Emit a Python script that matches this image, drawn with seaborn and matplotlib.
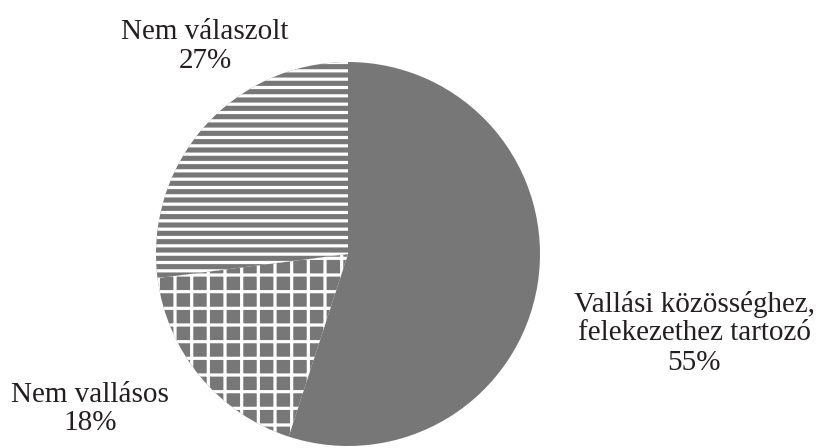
import matplotlib
matplotlib.use("Agg")
import matplotlib.pyplot as plt
import seaborn as sns

categories = ["Vallási közösséghez,\nfelekezethez tartozó", "Nem vallásos", "Nem válaszolt"]
values = [55, 18, 27]
pct_labels = ["55%", "18%", "27%"]

sns.set_style("white")
plt.rcParams["font.family"] = ["Liberation Serif", "DejaVu Serif"]
plt.rcParams["hatch.linewidth"] = 2.3

W, H, DPI = 818, 448, 100
fig = plt.figure(figsize=(W / DPI, H / DPI), dpi=DPI)
ax = fig.add_axes([0, 0, 1, 1])

cx, cy, R = 348, 254, 192  # pixel geometry of the pie
gray = "#777777"

wedges, _ = ax.pie(values, startangle=90, counterclock=False, radius=1,
                   colors=[gray, gray, gray],
                   wedgeprops=dict(linewidth=0))
wedges[0].set_edgecolor(gray)
for w, h in zip(wedges[1:], ["+", "--"]):
    w.set_edgecolor("white")
    w.set_hatch(h)
    w.set_linewidth(0)

ax.set_xlim(-cx / R, (W - cx) / R)
ax.set_ylim(-(H - cy) / R, cy / R)
ax.axis("off")

def px(x, y):
    return (x - cx) / R, (cy - y) / R

text_pos = [(694, 333), (90, 409), (205, 46)]
for cat, pct, (x, y) in zip(categories, pct_labels, text_pos):
    tx, ty = px(x, y)
    ax.text(tx, ty, cat + "\n" + pct, ha="center", va="center",
            fontsize=21, color="#231f20", linespacing=1.15)

fig.savefig("out.png", dpi=DPI)
